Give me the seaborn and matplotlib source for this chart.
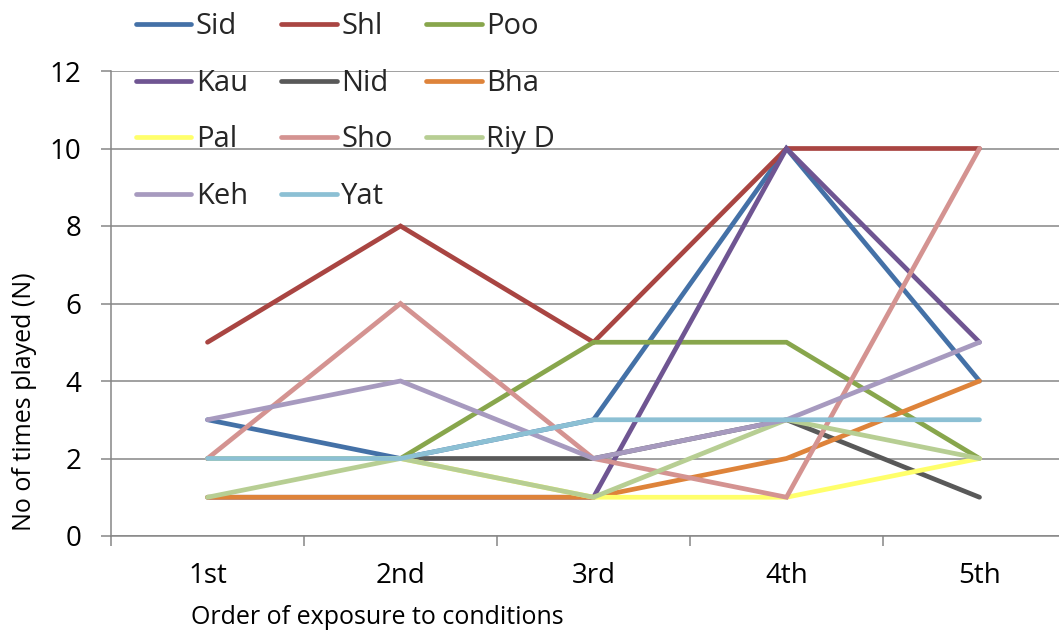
import matplotlib
matplotlib.use("Agg")
import matplotlib.pyplot as plt
from matplotlib.lines import Line2D
from matplotlib.ticker import FixedLocator, NullFormatter
import seaborn as sns
import pandas as pd

# Order in which participants met the five conditions
orders = ["1st", "2nd", "3rd", "4th", "5th"]

# Number of times each participant played, per exposure order
sid = [3, 2, 3, 10, 4]
shl = [5, 8, 5, 10, 10]
poo = [2, 2, 5, 5, 2]
kau = [1, 1, 1, 10, 5]
nid = [2, 2, 2, 3, 1]
bha = [1, 1, 1, 2, 4]
pal = [2, 2, 1, 1, 2]
sho = [2, 6, 2, 1, 10]
riy = [1, 2, 1, 3, 2]
keh = [3, 4, 2, 3, 5]
yat = [2, 2, 3, 3, 3]

names = ["Sid", "Shl", "Poo", "Kau", "Nid", "Bha", "Pal", "Sho", "Riy D", "Keh", "Yat"]
series = [sid, shl, poo, kau, nid, bha, pal, sho, riy, keh, yat]
colors = ["#4471A7", "#A94542", "#88A64C", "#6F5592", "#595959", "#DE833A",
          "#FFFF6B", "#D49391", "#B7CE93", "#A79ABF", "#8CC0D4"]

rows = []
for name, vals in zip(names, series):
    for i, v in enumerate(vals):
        rows.append({"participant": name, "pos": i, "played": v})
df = pd.DataFrame(rows)

sns.set_theme(style="white")
plt.rcParams["font.family"] = ["Open Sans", "DejaVu Sans"]

grey = "#868686"
fig = plt.figure(figsize=(10.59, 6.35), dpi=100)
ax = fig.add_axes([111 / 1059, 99 / 635, 965 / 1059, 465 / 635])

sns.lineplot(data=df, x="pos", y="played", hue="participant", hue_order=names,
             palette=dict(zip(names, colors)), sort=False, estimator=None,
             linewidth=3.4, ax=ax, legend=False)
for ln in ax.get_lines():
    ln.set_solid_capstyle("round")
    ln.set_solid_joinstyle("miter")

ax.set_ylim(0, 12)
ax.set_yticks(range(0, 13, 2))
ax.set_xlim(-0.5, 4.5)
ax.xaxis.set_major_locator(FixedLocator([-0.5, 0.5, 1.5, 2.5, 3.5, 4.5]))
ax.xaxis.set_major_formatter(NullFormatter())
ax.xaxis.set_minor_locator(FixedLocator(range(len(orders))))
ax.set_xticklabels(orders, minor=True)

ax.grid(axis="y", color=grey, linewidth=1.1)
ax.grid(axis="x", visible=False)
ax.set_axisbelow(True)
for side in ["top", "right"]:
    ax.spines[side].set_visible(False)
for side in ["left", "bottom"]:
    ax.spines[side].set_color(grey)
    ax.spines[side].set_linewidth(1.1)

ax.tick_params(axis="y", which="major", direction="out", length=7.2, width=1.1,
               color=grey, left=True, pad=14, labelsize=20, labelcolor="black")
ax.tick_params(axis="x", which="major", direction="out", length=7.2, width=1.1,
               color=grey, bottom=True)
ax.tick_params(axis="x", which="minor", length=0, pad=19, labelsize=20,
               labelcolor="black", bottom=True)

ax.set_xlabel("Order of exposure to conditions", fontsize=18, color="black")
ax.set_ylabel("No of times played (N)", fontsize=18, color="black")
ax.xaxis.set_label_coords(0.2756, -0.148)
ax.yaxis.set_label_coords(-0.0767, 0.288)

# legend laid out in rows of three
leg_handles = [Line2D([], [], color=c, linewidth=3.4, solid_capstyle="round") for c in colors]
order_idx = [0, 3, 6, 9, 1, 4, 7, 10, 2, 5, 8]
fig.legend([leg_handles[i] for i in order_idx], [names[i] for i in order_idx],
           ncol=3, loc="upper left", bbox_to_anchor=(136 / 1059, 1 - 12 / 635),
           frameon=False, fontsize=21, handlelength=1.9, handletextpad=0.15,
           columnspacing=1.15, labelspacing=0.95, borderpad=0, borderaxespad=0)

fig.savefig("out.png", dpi=100)
